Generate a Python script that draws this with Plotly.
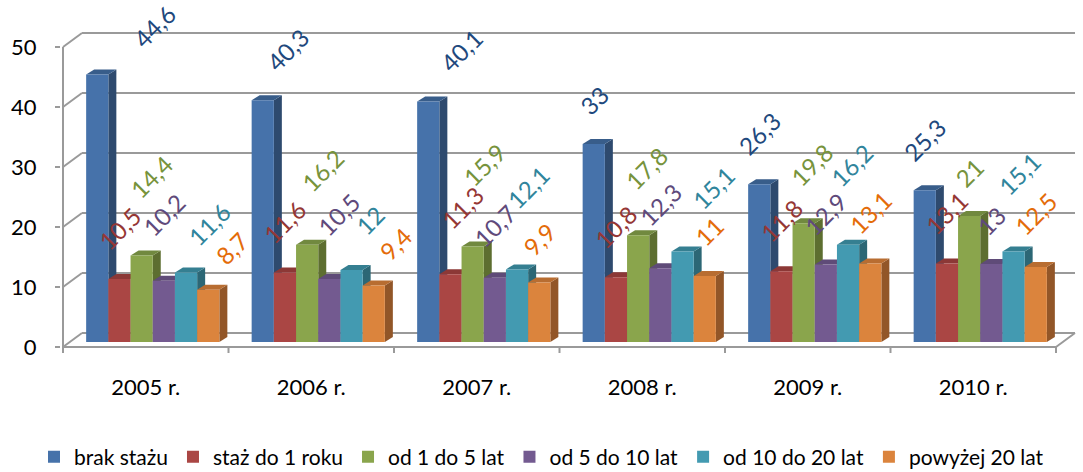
import plotly.graph_objects as go

# ---------------- data ----------------
years = ["2005 r.", "2006 r.", "2007 r.", "2008 r.", "2009 r.", "2010 r."]
series_names = ["brak stażu", "staż do 1 roku", "od 1 do 5 lat",
                "od 5 do 10 lat", "od 10 do 20 lat", "powyżej 20 lat"]
brak_stazu = [44.6, 40.3, 40.1, 33, 26.3, 25.3]
staz_do_1_roku = [10.5, 11.6, 11.3, 10.8, 11.8, 13.1]
od_1_do_5_lat = [14.4, 16.2, 15.9, 17.8, 19.8, 21]
od_5_do_10_lat = [10.2, 10.5, 10.7, 12.3, 12.9, 13]
od_10_do_20_lat = [11.6, 12, 12.1, 15.1, 16.2, 15.1]
powyzej_20_lat = [8.7, 9.4, 9.9, 11, 13.1, 12.5]
y_tick_values = [0, 10, 20, 30, 40, 50]

series_values = [brak_stazu, staz_do_1_roku, od_1_do_5_lat,
                 od_5_do_10_lat, od_10_do_20_lat, powyzej_20_lat]

# ---------------- styles ----------------
front_colors = ["#4672AA", "#AA4644", "#8AA54C", "#735A90", "#439AB1", "#DB843D"]
side_colors = ["#2E4A6E", "#7A2F2E", "#5D6E30", "#4C3B61", "#2C6775", "#925628"]
top_colors = ["#385D8A", "#8C3836", "#71893F", "#5F4B78", "#357F91", "#B86D31"]
label_colors = ["#1F497D", "#953735", "#77933C", "#604A7B", "#31859C", "#E46C0A"]
grid_color = "#9A9A9A"
FONT = "Lato"

# manual data-label nudges in pixels (series index, year index) -> (dx, dy up)
label_nudges = {
    (0, 0): (57, -3), (2, 0): (10, 28), (3, 0): (0, 16), (4, 0): (23, -3), (5, 0): (23, -4),
    (0, 1): (25, 0), (2, 1): (15, 24), (3, 1): (9, 14), (4, 1): (18, 6), (5, 1): (22, -4),
    (0, 2): (33, 0), (1, 2): (12, 16), (2, 2): (12, 31), (3, 2): (0, 2), (4, 2): (11, 31),
    (5, 2): (0, -3),
    (2, 3): (8, 16), (3, 3): (0, 13), (4, 3): (31, 13), (5, 3): (4, 1),
    (2, 4): (8, 8), (4, 4): (3, 29),
    (4, 5): (6, 27), (5, 5): (0, 3),
}

# pixel geometry -> data units
PX = 165.5          # px per category
PY = 6.0            # px per value unit
plot_left, plot_top, plot_w, plot_h = 61, 28, 1019, 328
x0 = -0.5 - 2 / PX
x_range = [x0, x0 + plot_w / PX]
y_zero_px = 342
y_range = [(y_zero_px - (plot_top + plot_h)) / PY, (y_zero_px - plot_top) / PY]

front_dy = -5 / PY                 # front floor level relative to bar base
wall_dx, wall_dy = 19 / PX, 14 / PY  # depth of the 3D box
plane_dx = 7 / PX                  # bars plane shift to the right
bar_w = 22.2 / PX
bar_dx, bar_dy = 8 / PX, 5 / PY    # depth of each bar

n_cat = len(years)
n_ser = len(series_names)

shapes = []
line = dict(color=grid_color, width=2)

# 3D box: floor, left wall diagonals, back wall gridlines
x_left = -0.5
x_right = n_cat - 0.5
for k in y_tick_values:
    fy = k + front_dy
    by = fy + wall_dy
    shapes.append(dict(type="line", xref="x", yref="y", x0=x_left, y0=fy,
                       x1=x_left + wall_dx, y1=by, line=line, layer="below"))
    shapes.append(dict(type="line", xref="x", yref="y", x0=x_left + wall_dx, y0=by,
                       x1=x_right + wall_dx, y1=by, line=line, layer="below"))
# floor front edge and right edge
shapes.append(dict(type="line", xref="x", yref="y", x0=x_left, y0=front_dy,
                   x1=x_right, y1=front_dy, line=line, layer="below"))
shapes.append(dict(type="line", xref="x", yref="y", x0=x_right, y0=front_dy,
                   x1=x_right + wall_dx, y1=front_dy + wall_dy, line=line, layer="below"))
# front vertical axis line
shapes.append(dict(type="line", xref="x", yref="y", x0=x_left, y0=front_dy - 1,
                   x1=x_left, y1=max(y_tick_values) + front_dy, line=line, layer="below"))
# category boundary ticks
for c in range(n_cat + 1):
    xb = c - 0.5
    shapes.append(dict(type="line", xref="x", yref="y", x0=xb, y0=front_dy,
                       x1=xb, y1=front_dy - 1, line=line, layer="below"))

# bar positions
def bar_x(ci, si):
    return ci + plane_dx + (si - (n_ser - 1) / 2) * bar_w

# 3D faces of bars
for ci in range(n_cat):
    for si in range(n_ser):
        v = series_values[si][ci]
        xc = bar_x(ci, si)
        xl, xr = xc - bar_w / 2, xc + bar_w / 2
        side = (f"M{xr},0 L{xr + bar_dx},{bar_dy} L{xr + bar_dx},{v + bar_dy} "
                f"L{xr},{v} Z")
        top = (f"M{xl},{v} L{xl + bar_dx},{v + bar_dy} L{xr + bar_dx},{v + bar_dy} "
               f"L{xr},{v} Z")
        shapes.append(dict(type="path", xref="x", yref="y", path=side,
                           fillcolor=side_colors[si], line=dict(width=0), layer="below"))
        shapes.append(dict(type="path", xref="x", yref="y", path=top,
                           fillcolor=top_colors[si], line=dict(width=0), layer="below"))

fig = go.Figure()
annotations = []
for si in range(n_ser):
    xs = [bar_x(ci, si) for ci in range(n_cat)]
    fig.add_trace(go.Bar(
        x=xs, y=series_values[si], width=bar_w, name=series_names[si],
        marker=dict(color=front_colors[si], line=dict(width=0)),
        hoverinfo="y+name",
    ))
    for ci in range(n_cat):
        v = series_values[si][ci]
        ndx, ndy = label_nudges.get((si, ci), (0, 0))
        annotations.append(dict(
            x=xs[ci], y=v, xref="x", yref="y",
            text=f"{v:g}".replace(".", ","),
            showarrow=False, textangle=-45,
            xanchor="center", yanchor="bottom",
            xshift=ndx, yshift=21 + ndy,
            font=dict(family=FONT, size=24, color=label_colors[si]),
        ))

fig.update_layout(
    width=1083, height=472,
    margin=dict(l=plot_left, r=1083 - plot_left - plot_w, t=plot_top,
                b=472 - plot_top - plot_h, pad=0, autoexpand=False),
    paper_bgcolor="white", plot_bgcolor="white",
    barmode="overlay",
    showlegend=True,
    font=dict(family=FONT, size=22, color="#000000"),
    legend=dict(orientation="h", xref="container", yref="paper",
                x=0.5, xanchor="center", y=-(457 - (plot_top + plot_h)) / plot_h,
                yanchor="middle",
                font=dict(family=FONT, size=21, color="#000000"),
                itemwidth=30, traceorder="normal", tracegroupgap=0),
    shapes=shapes,
    annotations=annotations,
)
fig.update_xaxes(
    range=x_range, tickmode="array", tickvals=list(range(n_cat)), ticktext=years,
    showgrid=False, zeroline=False, showline=False, ticks="", automargin=False,
    ticklabelstandoff=16, tickfont=dict(family=FONT, size=22, color="#000000"),
)
fig.update_yaxes(
    range=y_range, tickmode="array", automargin=False,
    tickvals=[k + front_dy for k in y_tick_values],
    ticktext=[str(k) for k in y_tick_values],
    showgrid=False, zeroline=False, showline=False,
    ticks="outside", ticklen=5, tickwidth=2, tickcolor=grid_color,
    ticklabelstandoff=14, tickfont=dict(family=FONT, size=22, color="#000000"),
)

fig.write_html("out.html", config={"displayModeBar": False},
               post_script="document.body.style.margin='0px';document.body.style.overflow='hidden';")
